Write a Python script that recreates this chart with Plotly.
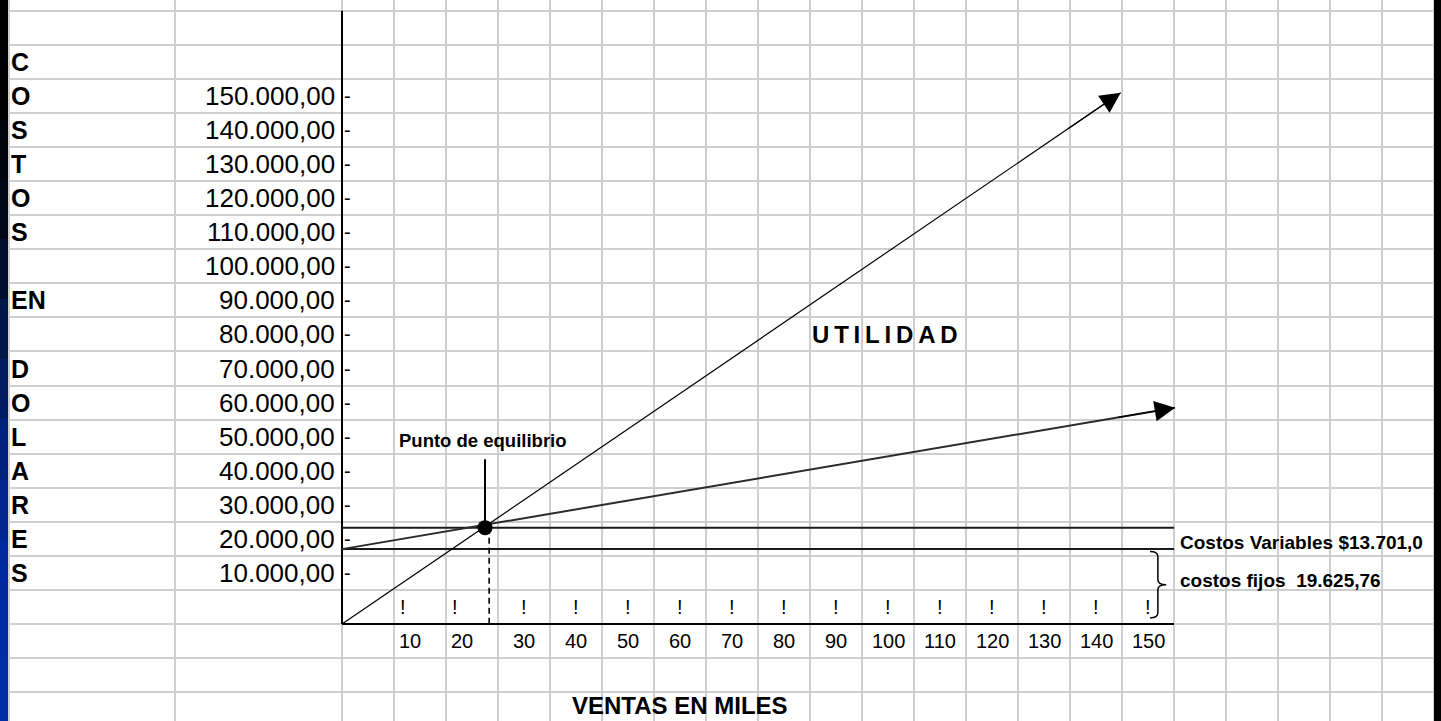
import plotly.graph_objects as go

# ---------------- data ----------------
y_tick_values = [150000, 140000, 130000, 120000, 110000, 100000, 90000, 80000,
                 70000, 60000, 50000, 40000, 30000, 20000, 10000]
x_tick_values = [10, 20, 30, 40, 50, 60, 70, 80, 90, 100, 110, 120, 130, 140, 150]
side_letters = ["C", "O", "S", "T", "O", "S", "", "EN", "", "D", "O", "L", "A", "R", "E", "S"]

sales_x = [0, 149.75]          # ventas (miles)
sales_y = [0, 155900]          # ingresos ($)
cost_x = [0, 160.2]            # costo total
cost_y = [22000, 63500]
fixed_cost_level = 22000       # horizontal line: costos fijos
total_cost_level = 28300       # horizontal line: costo total en el equilibrio
levels_end_x = 160
breakeven_x = 27.5
breakeven_y = 28300
breakeven_drop_x = 28.3
pointer_top_y = 48400
axis_top_y = 180000
axis_end_x = 160

title_x = "VENTAS EN MILES"
profit_label = "UTILIDAD"
breakeven_label = "Punto de equilibrio"
variable_cost_label = "Costos Variables $13.701,0"
fixed_cost_label = "costos fijos&nbsp;&nbsp;19.625,76"

# ---------------- page geometry (spreadsheet look) ----------------
W, H = 1441, 721
X_PX0, X_PX_PER_UNIT = 342.0, 5.2        # x = 0 at pixel 342, 52 px per 10 units
Y_PX0, Y_PX_PER_10K = 624.1, 34.08       # y = 0 at pixel 624.1, 34.08 px per 10 000


def px_to_x(px):
    return (px - X_PX0) / X_PX_PER_UNIT


def px_to_y(py):
    return (Y_PX0 - py) / Y_PX_PER_10K * 10000


FONT = "Liberation Sans, Arial, sans-serif"
GRID = "#cecece"


def es(v):
    s = f"{v:,.2f}"
    return s.replace(",", "X").replace(".", ",").replace("X", ".")


def txt(x, y, s, size, bold=False, xanchor="left", yanchor="middle"):
    return dict(x=x, y=y, xref="x", yref="y", text=f"<b>{s}</b>" if bold else s,
                showarrow=False, xanchor=xanchor, yanchor=yanchor,
                borderpad=0, borderwidth=0,
                font=dict(family=FONT, size=size, color="black"))


fig = go.Figure()

# axes of the hand-made chart
fig.add_trace(go.Scatter(x=[0, 0], y=[0, axis_top_y], mode="lines",
                         line=dict(color="black", width=2), hoverinfo="skip"))
fig.add_trace(go.Scatter(x=[0, axis_end_x], y=[0, 0], mode="lines",
                         line=dict(color="black", width=2), hoverinfo="skip"))

# horizontal cost levels
fig.add_trace(go.Scatter(x=[0, levels_end_x], y=[total_cost_level, total_cost_level],
                         mode="lines", line=dict(color="#1a1a1a", width=2), hoverinfo="skip"))
fig.add_trace(go.Scatter(x=[0, levels_end_x], y=[fixed_cost_level, fixed_cost_level],
                         mode="lines", line=dict(color="#1a1a1a", width=2), hoverinfo="skip"))

# sales and total cost lines
fig.add_trace(go.Scatter(x=sales_x, y=sales_y, mode="lines",
                         line=dict(color="black", width=1.2), hoverinfo="skip"))
fig.add_trace(go.Scatter(x=cost_x, y=cost_y, mode="lines",
                         line=dict(color="#2b2b2b", width=2), hoverinfo="skip"))

# break-even drop line and pointer
fig.add_trace(go.Scatter(x=[breakeven_drop_x, breakeven_drop_x], y=[breakeven_y, 0],
                         mode="lines", line=dict(color="black", width=1.6, dash="6px,4px"),
                         hoverinfo="skip"))
fig.add_trace(go.Scatter(x=[breakeven_x, breakeven_x], y=[breakeven_y, pointer_top_y],
                         mode="lines", line=dict(color="black", width=2), hoverinfo="skip"))
fig.add_trace(go.Scatter(x=[breakeven_x], y=[breakeven_y], mode="markers",
                         marker=dict(color="black", size=15), hoverinfo="skip"))

annotations = []

# arrowheads at the end of sales / cost lines
for lx, ly in ((sales_x, sales_y), (cost_x, cost_y)):
    t = 0.93
    annotations.append(dict(x=lx[1], y=ly[1], xref="x", yref="y",
                            ax=lx[0] + t * (lx[1] - lx[0]), ay=ly[0] + t * (ly[1] - ly[0]),
                            axref="x", ayref="y", text="", showarrow=True,
                            arrowhead=2, arrowsize=3.4, arrowwidth=1.2, arrowcolor="black"))

# y tick labels and dashes
for v in y_tick_values:
    annotations.append(txt(px_to_x(335), v + 5000, es(v), 26, xanchor="right"))
    annotations.append(txt(px_to_x(344), v + 5000, "-", 20))

# side letters
for i, s in enumerate(side_letters):
    if s:
        annotations.append(txt(px_to_x(11), 165000 - 10000 * i, s, 25, bold=True))

# x tick labels and "!" marks
for v in x_tick_values:
    if v <= 20:
        annotations.append(txt(v + 1.0, -5000, str(v), 20))
        annotations.append(txt(v + 1.1, 5000, "!", 20))
    else:
        annotations.append(txt(v + 5, -5000, str(v), 20, xanchor="center"))
        annotations.append(txt(v + 5, 5000, "!", 20, xanchor="center"))

annotations.append(txt(65, px_to_y(705.5), title_x, 24, bold=True, xanchor="center"))
annotations.append(txt(px_to_x(812), 85000, "&#8201;".join(profit_label), 24, bold=True))
annotations.append(txt(px_to_x(399), 53800, breakeven_label, 18.5, bold=True))
annotations.append(txt(px_to_x(1180), 23800, variable_cost_label, 19, bold=True))
annotations.append(txt(px_to_x(1180), 12900, fixed_cost_label, 19, bold=True))

# brace for the fixed costs
bx, btip = 156.9, 158.5
b_lo, b_hi = 1800, fixed_cost_level - 700
b_mid = (b_lo + b_hi) / 2
brace = (f"M {bx - 1.5},{b_hi} Q {bx},{b_hi} {bx},{b_hi - 1500} "
         f"L {bx},{b_mid + 1450} Q {bx},{b_mid} {btip},{b_mid} "
         f"Q {bx},{b_mid} {bx},{b_mid - 1450} L {bx},{b_lo + 1500} "
         f"Q {bx},{b_lo} {bx - 1.5},{b_lo}")
shapes = [dict(type="path", xref="x", yref="y", path=brace,
               line=dict(color="black", width=1.5))]

# left slide border (gradient) and right black border
grad = ["#000000", "#000000", "#00030c", "#000818", "#000f30", "#001748",
        "#001d62", "#00227a", "#00268e", "#00299c", "#002ba4", "#002ca8"]
n = len(grad)
for i, c in enumerate(grad):
    shapes.append(dict(type="rect", xref="paper", yref="paper", layer="above",
                       x0=0, x1=8 / W, y0=1 - (i + 1) / n, y1=1 - i / n + 0.002,
                       fillcolor=c, line=dict(width=0)))
shapes.append(dict(type="rect", xref="paper", yref="paper", layer="above",
                   x0=1434 / W, x1=1, y0=0, y1=1, fillcolor="black", line=dict(width=0)))

x_grid = [px_to_x(9), px_to_x(175)] + list(range(0, 211, 10))

fig.update_layout(
    width=W, height=H, margin=dict(l=0, r=0, t=0, b=0),
    paper_bgcolor="white", plot_bgcolor="white", showlegend=False,
    xaxis=dict(range=[px_to_x(0), px_to_x(W)], tickmode="array", tickvals=x_grid,
               showticklabels=False, ticks="", showgrid=True, gridcolor=GRID, gridwidth=2,
               zeroline=False, showline=False, fixedrange=True),
    yaxis=dict(range=[px_to_y(H), px_to_y(0)], tick0=0, dtick=10000,
               showticklabels=False, ticks="", showgrid=True, gridcolor=GRID, gridwidth=2,
               zeroline=False, showline=False, fixedrange=True),
    annotations=annotations, shapes=shapes,
)

fig.write_html("out.html", config={"displayModeBar": False},
               post_script="document.body.style.margin='0';document.body.style.overflow='hidden';")
